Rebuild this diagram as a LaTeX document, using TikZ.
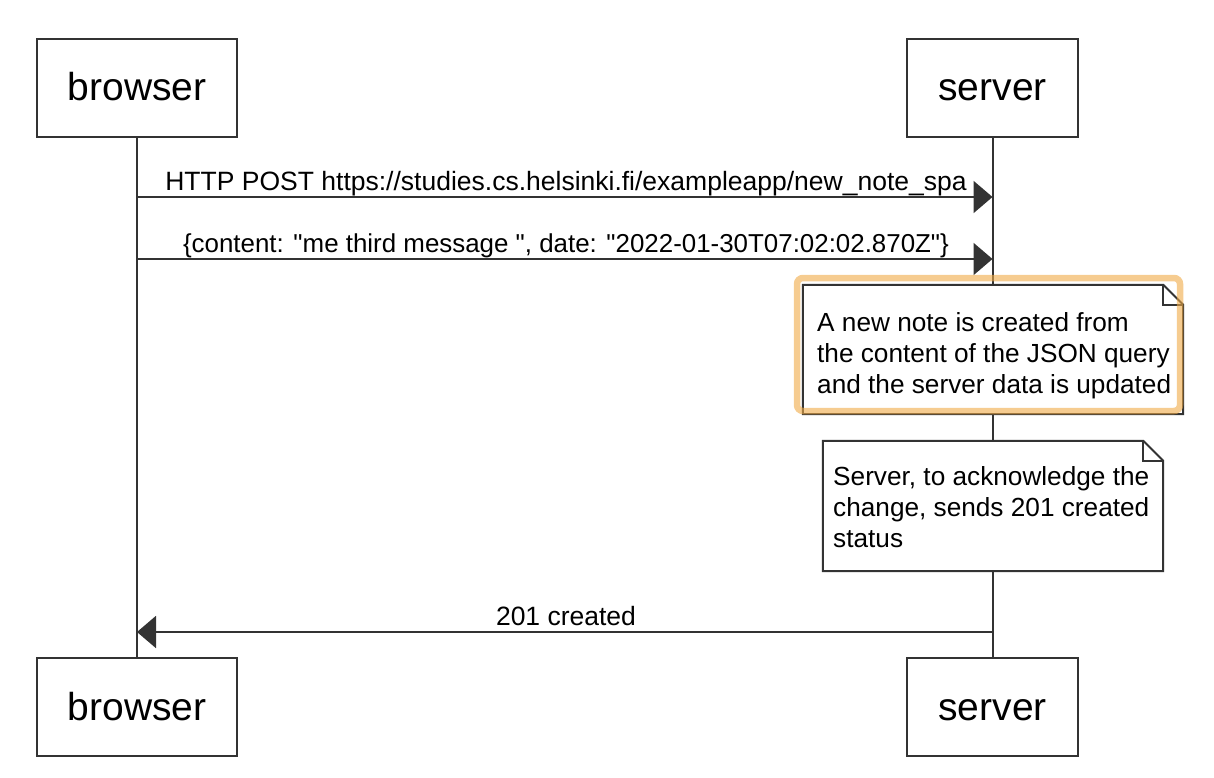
\documentclass[tikz,border=0pt]{standalone}
\usepackage{fontspec}
\setmainfont{Liberation Sans}[Ligatures=TeXOff]
\usetikzlibrary{arrows.meta,calc}
\definecolor{hl}{RGB}{240,170,70}
\tikzset{
  actor/.style={draw=black!80, line width=2pt, fill=white, minimum height=98pt, inner sep=0pt, text height=34pt, text depth=8pt, font=\fontsize{39}{44}\selectfont},
  life/.style={draw=black!80, line width=2pt},
  msg/.style={draw=black!80, line width=2pt, -{Triangle[length=19pt,width=32pt]}},
  lbl/.style={font=\fontsize{26.5}{30}\selectfont, inner sep=0pt, anchor=base},
  notetext/.style={font=\fontsize{26.2}{31}\selectfont, align=left, inner sep=0pt, anchor=west},
  noteline/.style={draw=black!80, line width=2pt, fill=white, line join=miter},
  foldline/.style={draw=black!80, line width=2pt},
}
\begin{document}
\begin{tikzpicture}[x=1pt,y=-1pt]
\useasboundingbox (0,0) rectangle (1214,778);
% participants
\node[actor, minimum width=200pt] (b1) at (137,88) {browser};
\node[actor, minimum width=171pt] (s1) at (992.5,88) {server};
\node[actor, minimum width=200pt] (b2) at (137,707) {browser};
\node[actor, minimum width=171pt] (s2) at (992.5,707) {server};
% lifelines
\draw[life] (b1.south) -- (b2.north);
\draw[life] (s1.south) -- (s2.north);
% message points
\coordinate (m1s) at (137,197);
\coordinate (m1e) at (992.5,197);
\coordinate (m2s) at (137,259);
\coordinate (m2e) at (992.5,259);
\coordinate (m3s) at (992.5,632);
\coordinate (m3e) at (137,632);
\draw[msg] (m1s) -- (m1e);
\node[lbl] (l1) at (566,190) {HTTP POST https://studies.cs.helsinki.fi/exampleapp/new\_note\_spa};
\draw[msg] (m2s) -- (m2e);
\node[lbl, font=\fontsize{25.9}{30}\selectfont] (l2) at (566,252) {\{content: "me third message ", date: "2022-01-30T07:02:02.870Z"\}};
\draw[msg] (m3s) -- (m3e);
\node[lbl] (l3) at (566,625) {201 created};
% note 1
\node[minimum width=380pt, minimum height=129pt, inner sep=0pt] (n1) at (993,349.5) {};
\path[noteline] (n1.north west) -- ($(n1.north east)+(-20,0)$) -- ($(n1.north east)+(0,20)$) -- (n1.south east) -- (n1.south west) -- cycle;
\draw[foldline] ($(n1.north east)+(-20,0)$) -- ($(n1.north east)+(-20,20)$) -- ($(n1.north east)+(0,20)$);
\node[notetext] (t1) at (817,356) {A new note is created from\\the content of the JSON query\\and the server data is updated};
\draw[draw=hl, draw opacity=0.6, line width=6.5pt, rounded corners=6pt] (797,278) rectangle (1180,411);
% note 2
\node[minimum width=340pt, minimum height=130pt, inner sep=0pt] (n2) at (993,506) {};
\path[noteline] (n2.north west) -- ($(n2.north east)+(-20,0)$) -- ($(n2.north east)+(0,20)$) -- (n2.south east) -- (n2.south west) -- cycle;
\draw[foldline] ($(n2.north east)+(-20,0)$) -- ($(n2.north east)+(-20,20)$) -- ($(n2.north east)+(0,20)$);
\node[notetext] (t2) at (833,507) {Server, to acknowledge the\\change, sends 201 created\\status};
\end{tikzpicture}
\end{document}
